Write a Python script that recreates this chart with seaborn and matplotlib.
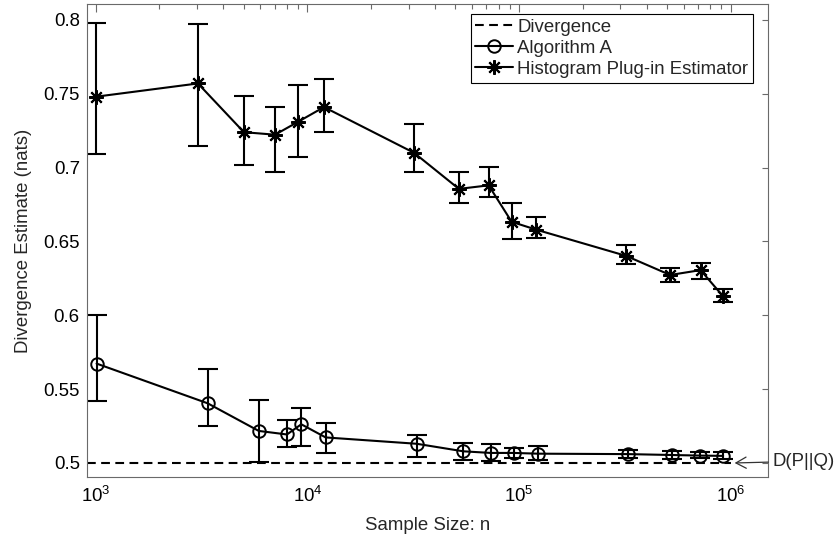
import numpy as np
import matplotlib
matplotlib.use("Agg")
import matplotlib.pyplot as plt
import seaborn as sns
import pandas as pd
from matplotlib.lines import Line2D

# ---------------- data ----------------
n_alg = [1010, 3380, 5890, 8000, 9350, 12190, 32800, 54400, 73300, 94400,
         122200, 327000, 525000, 713000, 918000]
est_alg = [0.5673, 0.5404, 0.5217, 0.5193, 0.5262, 0.5173, 0.5130, 0.5079,
           0.5068, 0.5068, 0.5063, 0.5060, 0.5054, 0.5050, 0.5048]
hi_alg = [0.6004, 0.5637, 0.5424, 0.5291, 0.5374, 0.5271, 0.5188, 0.5135,
          0.5131, 0.5104, 0.5117, 0.5090, 0.5081, 0.5072, 0.5072]
lo_alg = [0.5417, 0.5253, 0.5004, 0.5108, 0.5117, 0.5065, 0.5040, 0.5023,
          0.5011, 0.5032, 0.5023, 0.5036, 0.5027, 0.5034, 0.5027]

n_hist = [1000, 3040, 5010, 7030, 9020, 11970, 31900, 51900, 71700, 92100,
          119500, 318600, 516000, 718000, 912000]
est_hist = [0.748, 0.757, 0.724, 0.7223, 0.731, 0.741, 0.710, 0.6856, 0.688,
            0.6633, 0.6581, 0.6403, 0.6273, 0.6306, 0.6133]
hi_hist = [0.798, 0.797, 0.7486, 0.741, 0.756, 0.7597, 0.7293, 0.6973, 0.7002,
           0.6759, 0.6669, 0.6473, 0.6318, 0.6354, 0.6176]
lo_hist = [0.709, 0.7146, 0.7019, 0.697, 0.7075, 0.724, 0.697, 0.6761, 0.6802,
           0.6516, 0.6523, 0.6347, 0.6225, 0.6248, 0.6092]

divergence_value = 0.5
divergence_x = [907, 1.0e6]

y_ticks = [0.5, 0.55, 0.6, 0.65, 0.7, 0.75, 0.8]
y_tick_labels = ["0.5", "0.55", "0.6", "0.65", "0.7", "0.75", "0.8"]
x_ticks = [1e3, 1e4, 1e5, 1e6]
x_tick_labels = [r"$10^{3}$", r"$10^{4}$", r"$10^{5}$", r"$10^{6}$"]

legend_labels = ["Divergence", "Algorithm A", "Histogram Plug-in Estimator"]
annot_text = "D(P||Q)"
annot_x = 1.04e6

# ---------------- style ----------------
sns.set_theme(style="white")
plt.rcParams["font.family"] = ["Liberation Sans", "DejaVu Sans"]
plt.rcParams["mathtext.fontset"] = "custom"
plt.rcParams["mathtext.rm"] = "Liberation Sans"
plt.rcParams["mathtext.it"] = "Liberation Sans"
plt.rcParams["mathtext.default"] = "regular"

FS = 13.4
edge = "#6a6a6a"
LW = 1.5

fig = plt.figure(figsize=(8.35, 5.40), dpi=100)
ax = fig.add_axes([86.7 / 835, 1 - 477.3 / 540, (767.7 - 86.7) / 835, (477.3 - 4.3) / 540])
ax.set_xscale("log")

star = (8, 2, 0)
dash = (0, (4.2, 2.6))

df_alg = pd.DataFrame({"n": n_alg, "est": est_alg})
df_hist = pd.DataFrame({"n": n_hist, "est": est_hist})
df_div = pd.DataFrame({"n": divergence_x, "est": [divergence_value] * len(divergence_x)})

sns.lineplot(data=df_div, x="n", y="est", ax=ax, color="black", lw=LW,
             linestyle=dash, legend=False)
sns.lineplot(data=df_alg, x="n", y="est", ax=ax, color="black", lw=LW,
             marker="o", markersize=9, markerfacecolor="none",
             markeredgecolor="black", markeredgewidth=1.4, legend=False)
sns.lineplot(data=df_hist, x="n", y="est", ax=ax, color="black", lw=LW,
             marker=star, markersize=10.5, markeredgecolor="black",
             markeredgewidth=1.5, legend=False)

ea = np.array(est_alg)
ax.errorbar(n_alg, est_alg, yerr=[ea - np.array(lo_alg), np.array(hi_alg) - ea],
            fmt="none", ecolor="black", elinewidth=LW, capsize=7, capthick=LW)
eh = np.array(est_hist)
ax.errorbar(n_hist, est_hist, yerr=[eh - np.array(lo_hist), np.array(hi_hist) - eh],
            fmt="none", ecolor="black", elinewidth=LW, capsize=7, capthick=LW)

ax.set_xlim(907, 1.49e6)
ax.set_ylim(0.4903, 0.8106)
ax.set_xticks(x_ticks)
ax.set_xticklabels(x_tick_labels)
ax.set_yticks(y_ticks)
ax.set_yticklabels(y_tick_labels)
ax.xaxis.set_minor_locator(matplotlib.ticker.LogLocator(base=10, subs=np.arange(2, 10)))
ax.xaxis.set_minor_formatter(matplotlib.ticker.NullFormatter())

ax.tick_params(axis="both", which="both", direction="in", top=True, right=True,
               colors=edge, labelcolor="black", labelsize=FS, width=0.8)
ax.tick_params(axis="x", which="major", length=6, pad=6)
ax.tick_params(axis="x", which="minor", length=3.5)
ax.tick_params(axis="y", which="major", length=4, pad=5)
for s in ax.spines.values():
    s.set_color(edge)
    s.set_linewidth(0.8)

ax.set_xlabel("Sample Size: n", fontsize=FS, labelpad=8)
ax.set_ylabel("Divergence Estimate (nats)", fontsize=FS, labelpad=8)

handles = [
    Line2D([], [], color="black", lw=LW, linestyle=dash),
    Line2D([], [], color="black", lw=LW, marker="o", markersize=9,
           markerfacecolor="none", markeredgewidth=1.4),
    Line2D([], [], color="black", lw=LW, marker=star, markersize=10.5,
           markeredgewidth=1.5),
]
leg = ax.legend(handles, legend_labels, loc="upper right",
                bbox_to_anchor=(753 / 835, 1 - 14 / 540), bbox_transform=fig.transFigure,
                borderaxespad=0, fontsize=FS, frameon=True, fancybox=False,
                framealpha=1, edgecolor="black", handlelength=2.0,
                handletextpad=0.25, borderpad=0.25, labelspacing=0.22)
leg.get_frame().set_linewidth(0.8)

ax.annotate(annot_text, xy=(annot_x, divergence_value), xycoords="data",
            xytext=(773, 540 - 462), textcoords="figure pixels",
            ha="left", va="center", fontsize=FS, annotation_clip=False,
            arrowprops=dict(arrowstyle="->,head_length=0.55,head_width=0.3",
                            color="#333333", lw=0.9, shrinkA=1, shrinkB=0,
                            relpos=(0, 0.5)))

fig.savefig("out.png", dpi=100)
